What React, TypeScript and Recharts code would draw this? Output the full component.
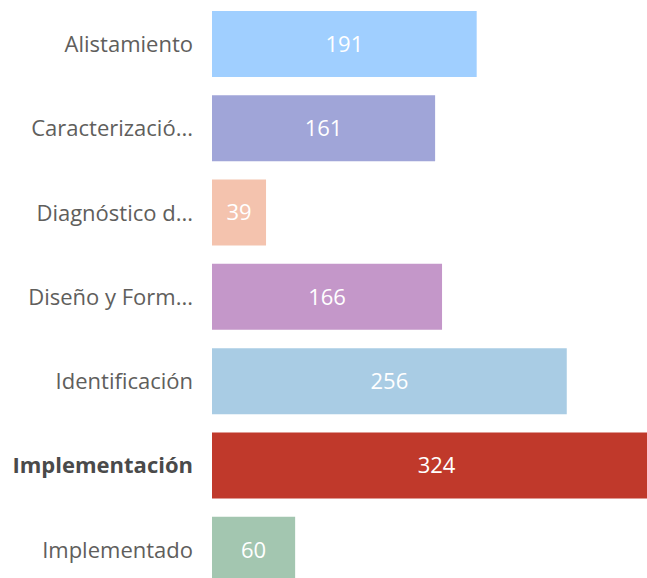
import { BarChart, Bar, XAxis, YAxis, Cell, LabelList } from "recharts";

const categories = [
  "Alistamiento",
  "Caracterizació...",
  "Diagnóstico d...",
  "Diseño y Form...",
  "Identificación",
  "Implementación",
  "Implementado",
];

const counts = [191, 161, 39, 166, 256, 324, 60];

const colors = [
  "#a0cfff",
  "#a0a5d8",
  "#f4c3ae",
  "#c497c9",
  "#a9cce4",
  "#c0392b",
  "#a3c6b0",
];

const highlighted = "Implementación";

const data = categories.map((name, i) => ({ name, value: counts[i] }));

const FONT = "'Open Sans', 'Segoe UI', sans-serif";

function CategoryTick(props: any) {
  const { x, y, payload } = props;
  const bold = payload.value === highlighted;
  return (
    <text
      x={x}
      y={y}
      dy="0.355em"
      textAnchor="end"
      fontFamily={FONT}
      fontSize={22}
      fontWeight={bold ? 700 : 400}
      fill={bold ? "#4a4a4a" : "#605e5c"}
    >
      {payload.value}
    </text>
  );
}

export default function App() {
  return (
    <div
      style={{
        position: "absolute",
        left: 0,
        top: 0,
        width: 647,
        height: 578,
        overflow: "hidden",
        background: "#fff",
      }}
    >
      <BarChart
        layout="vertical"
        width={661}
        height={600}
        data={data}
        margin={{ top: 2, right: 0, bottom: 8, left: 0 }}
      >
        <XAxis type="number" hide domain={[0, "dataMax"]} />
        <YAxis
          type="category"
          dataKey="name"
          width={212}
          axisLine={false}
          tickLine={false}
          tickMargin={13}
          tick={<CategoryTick />}
        />
        <Bar dataKey="value" barSize={66} isAnimationActive={false}>
          {data.map((d, i) => (
            <Cell key={d.name} fill={colors[i]} />
          ))}
          <LabelList
            dataKey="value"
            position="center"
            fill="#ffffff"
            fontFamily={FONT}
            fontSize={22}
          />
        </Bar>
      </BarChart>
    </div>
  );
}
